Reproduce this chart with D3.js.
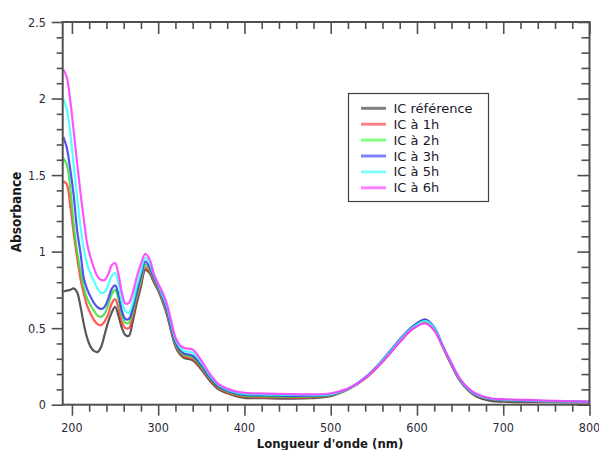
<!DOCTYPE html>
<html>
<head>
<meta charset="utf-8">
<script src="https://cdn.jsdelivr.net/npm/d3@7"></script>
<style>
  html, body { margin: 0; padding: 0; background: #fff; }
  svg { display: block; }
  text { font-family: "DejaVu Sans Condensed", "DejaVu Sans", sans-serif; }
</style>
</head>
<body>
<svg id="chart" width="599" height="450"></svg>
<script>
// Wavelength grid (nm)
const wavelengths = [190,194,198,202,206,210,214,218,222,226,230,234,238,242,246,250,254,258,262,266,270,275,280,285,290,295,
  300,305,310,315,320,325,330,340,350,360,370,380,390,400,425,450,475,
  500,520,540,560,580,595,610,620,630,640,650,660,670,685,700,725,750,800];

const seriesNames = ["IC référence", "IC à 1h", "IC à 2h", "IC à 3h", "IC à 5h", "IC à 6h"];
const seriesColors = ["#3a3a3a", "#ff3b3b", "#35e035", "#3535ee", "#35ffff", "#ff35ff"];
const legendColors = ["#808080", "#ff8080", "#80ff80", "#8080ff", "#80ffff", "#ff80ff"];

const absReference = [0.74,0.745,0.75,0.76,0.735,0.64,0.52,0.43,0.375,0.35,0.345,0.38,0.46,0.54,0.60,0.64,0.58,0.50,0.455,0.45,0.53,0.66,0.77,0.88,0.86,0.80,
  0.745,0.675,0.59,0.48,0.38,0.33,0.305,0.29,0.23,0.155,0.10,0.075,0.055,0.045,0.042,0.04,0.042,
  0.055,0.10,0.175,0.29,0.425,0.51,0.555,0.50,0.38,0.26,0.155,0.09,0.05,0.025,0.02,0.017,0.016,0.015];
const abs1h = [1.46,1.44,1.30,1.12,0.96,0.82,0.72,0.64,0.59,0.55,0.525,0.52,0.545,0.59,0.66,0.69,0.63,0.54,0.50,0.50,0.565,0.69,0.79,0.895,0.87,0.81,
  0.755,0.685,0.60,0.49,0.39,0.34,0.315,0.30,0.24,0.165,0.108,0.08,0.062,0.052,0.048,0.047,0.048,
  0.06,0.10,0.17,0.28,0.41,0.495,0.538,0.49,0.375,0.26,0.16,0.095,0.058,0.035,0.028,0.024,0.02,0.017];
const abs2h = [1.61,1.57,1.42,1.18,1.00,0.87,0.76,0.69,0.645,0.61,0.58,0.575,0.595,0.65,0.72,0.75,0.69,0.585,0.535,0.535,0.595,0.71,0.81,0.915,0.885,0.82,
  0.765,0.695,0.61,0.50,0.40,0.35,0.325,0.31,0.25,0.172,0.115,0.087,0.068,0.058,0.054,0.052,0.053,
  0.062,0.10,0.175,0.285,0.42,0.505,0.548,0.50,0.38,0.265,0.16,0.097,0.06,0.037,0.03,0.026,0.022,0.018];
const abs3h = [1.75,1.68,1.54,1.37,1.14,0.99,0.82,0.75,0.70,0.66,0.635,0.625,0.64,0.69,0.755,0.78,0.72,0.61,0.56,0.56,0.62,0.735,0.84,0.935,0.90,0.83,
  0.77,0.705,0.62,0.51,0.41,0.36,0.335,0.32,0.26,0.18,0.12,0.092,0.074,0.064,0.06,0.058,0.058,
  0.065,0.102,0.178,0.29,0.425,0.51,0.556,0.505,0.385,0.265,0.162,0.098,0.062,0.038,0.031,0.027,0.023,0.019];
const abs5h = [2.00,1.93,1.78,1.57,1.36,1.16,1.01,0.91,0.85,0.80,0.755,0.73,0.735,0.78,0.84,0.86,0.79,0.67,0.61,0.60,0.655,0.77,0.87,0.96,0.925,0.845,
  0.78,0.715,0.64,0.53,0.425,0.375,0.35,0.34,0.275,0.19,0.128,0.098,0.08,0.07,0.066,0.064,0.063,
  0.068,0.103,0.177,0.288,0.42,0.505,0.548,0.50,0.385,0.27,0.165,0.10,0.064,0.04,0.033,0.028,0.024,0.02];
const abs6h = [2.19,2.14,1.99,1.79,1.58,1.38,1.20,1.04,0.955,0.885,0.835,0.815,0.815,0.85,0.91,0.925,0.85,0.73,0.66,0.665,0.72,0.83,0.92,0.985,0.95,0.855,
  0.79,0.735,0.66,0.55,0.44,0.39,0.37,0.36,0.29,0.20,0.135,0.105,0.087,0.078,0.073,0.07,0.068,
  0.075,0.105,0.175,0.28,0.41,0.495,0.53,0.485,0.38,0.27,0.168,0.105,0.068,0.042,0.036,0.031,0.027,0.02];

const seriesValues = [absReference, abs1h, abs2h, abs3h, abs5h, abs6h];

const xMajorTicks = [200,300,400,500,600,700,800];
const yMajorTicks = [0,0.5,1,1.5,2,2.5];
const yTickLabels = ["0","0.5","1","1.5","2","2.5"];

const xTitle = "Longueur d'onde (nm)";
const yTitle = "Absorbance";

// ---- layout ----
const svg = d3.select("#chart");
const mLeft = 62.7, mRight = 589.5, mTop = 22, mBottom = 404.7;
const x = d3.scaleLinear().domain([189.3, 800]).range([mLeft, mRight]);
const y = d3.scaleLinear().domain([0, 2.5]).range([mBottom, mTop]);
const axisColor = "#505050";

const xMinor = d3.range(200, 801, 20);
const yMinor = d3.range(0, 26).map(d => d / 10);

// curves
const line = d3.line()
  .x((d, i) => x(wavelengths[i]))
  .y(d => y(d))
  .curve(d3.curveCatmullRom.alpha(0.5));

const plot = svg.append("g");
seriesValues.forEach((vals, k) => {
  plot.append("path")
    .datum(vals)
    .attr("d", line)
    .attr("fill", "none")
    .attr("stroke", seriesColors[k])
    .attr("stroke-width", 2.2)
    .attr("stroke-opacity", 0.85)
    .attr("stroke-linejoin", "round");
});

// ticks
const isMajorY = d => Math.abs(d * 2 - Math.round(d * 2)) < 1e-6;
const gB = svg.append("g").attr("transform", `translate(0,${mBottom})`)
  .call(d3.axisBottom(x).tickValues(xMinor).tickSize(7).tickFormat(""));
gB.selectAll(".tick line").filter(d => d % 100 === 0).attr("y2", 11);
const gT = svg.append("g").attr("transform", `translate(0,${mTop})`)
  .call(d3.axisBottom(x).tickValues(xMinor).tickSize(7).tickFormat(""));
gT.selectAll(".tick line").filter(d => d % 100 === 0).attr("y2", 12);
const gL = svg.append("g").attr("transform", `translate(${mLeft},0)`)
  .call(d3.axisLeft(y).tickValues(yMinor).tickSize(6).tickFormat(""));
gL.selectAll(".tick line").filter(isMajorY).attr("x2", -11);
const gR = svg.append("g").attr("transform", `translate(${mRight},0)`)
  .call(d3.axisLeft(y).tickValues(yMinor).tickSize(8).tickFormat(""));
gR.selectAll(".tick line").filter(isMajorY).attr("x2", -12);

[gB, gT, gL, gR].forEach(g => {
  g.selectAll(".domain").remove();
  g.selectAll(".tick line").attr("stroke", axisColor).attr("stroke-width", 1.6);
});

svg.append("rect")
  .attr("x", mLeft).attr("y", mTop)
  .attr("width", mRight - mLeft).attr("height", mBottom - mTop)
  .attr("fill", "none").attr("stroke", axisColor).attr("stroke-width", 2);

// tick labels
svg.append("g").selectAll("text").data(xMajorTicks).join("text")
  .attr("x", d => x(d)).attr("y", 432)
  .attr("text-anchor", "middle")
  .attr("font-size", 12.5).attr("fill", "#2a2a3a")
  .text(d => d);
svg.append("g").selectAll("text").data(yMajorTicks).join("text")
  .attr("x", 46).attr("y", d => y(d) + 4.5)
  .attr("text-anchor", "end")
  .attr("font-size", 12.5).attr("fill", "#2a2a3a")
  .text((d, i) => yTickLabels[i]);

// axis titles
svg.append("text")
  .attr("x", 330).attr("y", 447.5)
  .attr("text-anchor", "middle")
  .attr("font-size", 13).attr("font-weight", "bold").attr("fill", "#1a1a1a")
  .text(xTitle);
svg.append("text")
  .attr("transform", "translate(20.5,212) rotate(-90)")
  .attr("text-anchor", "middle")
  .attr("font-size", 13.5).attr("font-weight", "bold").attr("fill", "#1a1a1a")
  .text(yTitle);

// legend
const lg = svg.append("g");
lg.append("rect")
  .attr("x", 348.5).attr("y", 93.5).attr("width", 140).attr("height", 108)
  .attr("fill", "#fff").attr("stroke", "#404040").attr("stroke-width", 1.2);
seriesNames.forEach((name, i) => {
  const yy = 108.3 + i * 15.9;
  lg.append("line")
    .attr("x1", 361).attr("x2", 386).attr("y1", yy).attr("y2", yy)
    .attr("stroke", legendColors[i]).attr("stroke-width", 3);
  lg.append("text")
    .attr("x", 393.5).attr("y", yy + 4.5)
    .attr("font-size", 13).attr("fill", "#1a1a2a")
    .style("font-family", "'DejaVu Sans', sans-serif")
    .text(name);
});
</script>
</body>
</html>
